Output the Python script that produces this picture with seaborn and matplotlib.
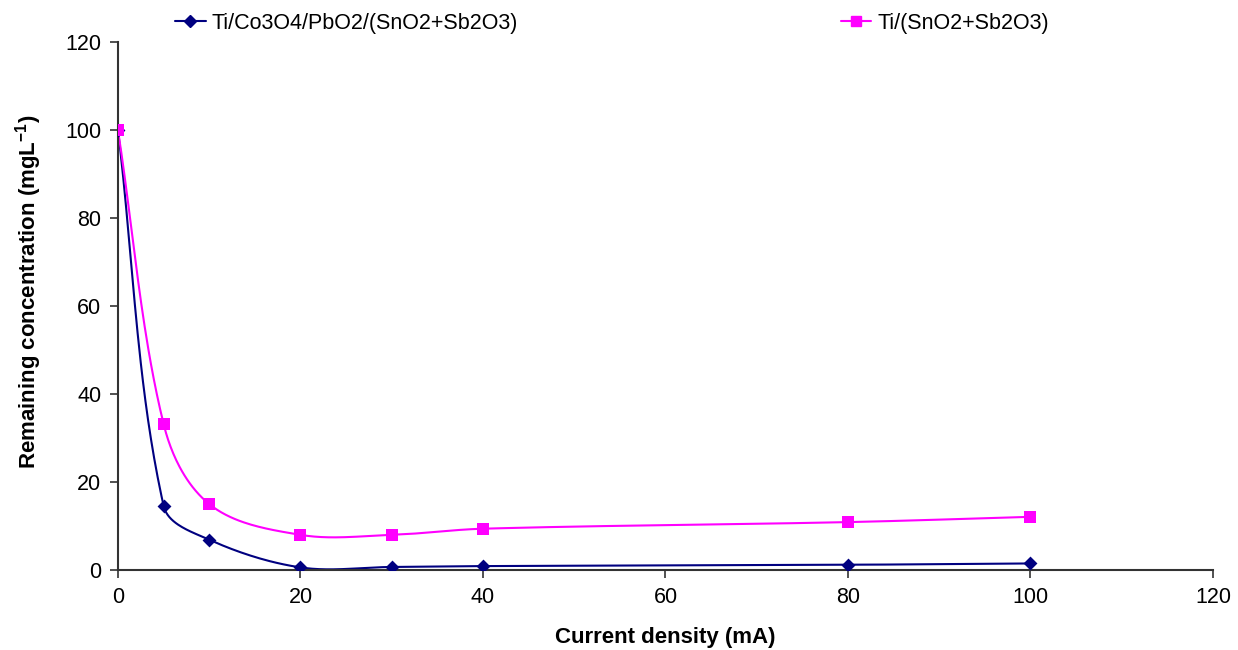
import numpy as np
import pandas as pd
import matplotlib
matplotlib.use("Agg")
import matplotlib.pyplot as plt
import seaborn as sns
from matplotlib.lines import Line2D

# Data
current = [0, 5, 10, 20, 30, 40, 80, 100]
conc_co3o4 = [100, 14.6, 6.9, 0.6, 0.7, 0.9, 1.2, 1.5]
conc_sno2 = [100, 33.2, 15.0, 8.0, 8.0, 9.4, 10.9, 12.1]
series_names = ["Ti/Co3O4/PbO2/(SnO2+Sb2O3)", "Ti/(SnO2+Sb2O3)"]
colors = ["#000080", "#FF00FF"]
markers = ["D", "s"]

sns.set_style("white")
plt.rcParams["font.family"] = ["Liberation Sans", "DejaVu Sans"]
plt.rcParams["mathtext.fontset"] = "custom"
plt.rcParams["mathtext.rm"] = "Liberation Sans"
plt.rcParams["mathtext.bf"] = "Liberation Sans:bold"


def excel_smooth(x, y, sx=9.125, sy=4.4, n=40):
    # smoothed line like Excel: bezier segments, tangent from neighbours,
    # control distance scaled by each segment's own length (screen units)
    pts = np.column_stack([np.asarray(x, float) * sx, np.asarray(y, float) * sy])
    k = len(pts)
    tang = []
    for i in range(k):
        a = pts[max(i - 1, 0)]
        b = pts[min(i + 1, k - 1)]
        d = b - a
        tang.append(d / np.linalg.norm(d))
    out = [pts[0]]
    t = np.linspace(0, 1, n)[1:, None]
    for i in range(k - 1):
        p1, p2 = pts[i], pts[i + 1]
        L = np.linalg.norm(p2 - p1)
        c1 = p1 + tang[i] * L / 3
        c2 = p2 - tang[i + 1] * L / 3
        seg = ((1 - t) ** 3) * p1 + 3 * ((1 - t) ** 2) * t * c1 + 3 * (1 - t) * t ** 2 * c2 + t ** 3 * p2
        out.extend(seg)
    out = np.array(out)
    return out[:, 0] / sx, out[:, 1] / sy


fig = plt.figure(figsize=(12.38, 6.5), dpi=100)
ax = fig.add_axes([0.0953, 0.123, 0.8845, 0.812])

for name, vals, c, m in zip(series_names, [conc_co3o4, conc_sno2], colors, markers):
    sx_, sy_ = excel_smooth(current, vals)
    sns.lineplot(x=sx_, y=sy_, ax=ax, color=c, linewidth=1.5, sort=False, estimator=None)
    sns.scatterplot(x=current, y=vals, ax=ax, color=c, marker=m,
                    s=64 if m == "s" else 50, edgecolor=c, linewidth=0, zorder=3)

ax.set_xlim(0, 120)
ax.set_ylim(0, 120)
ax.set_xticks(range(0, 121, 20))
ax.set_yticks(range(0, 121, 20))
ax.tick_params(axis="both", direction="out", length=6, width=1.2, color="#333333",
               labelsize=15.5, labelcolor="black", pad=6, bottom=True, left=True)
for s in ["top", "right"]:
    ax.spines[s].set_visible(False)
for s in ["left", "bottom"]:
    ax.spines[s].set_color("#333333")
    ax.spines[s].set_linewidth(1.5)

ax.set_xlabel("Current density (mA)", fontsize=16, fontweight="bold", labelpad=14, color="black")
ax.set_ylabel(r"Remaining concentration (mgL$^{\mathbf{-1}}$)", fontsize=16,
              fontweight="bold", color="black")
ax.yaxis.set_label_coords(-0.068, 0.527)

handles = [Line2D([0], [0], color=c, marker=m, markersize=6.5 if m == "D" else 7.5, linewidth=1.5)
           for c, m in zip(colors, markers)]
leg = fig.legend(handles, series_names, ncol=2, frameon=False, fontsize=15.5,
                 loc="center left", bbox_to_anchor=(0.126, 0.964),
                 handlelength=1.4, handletextpad=0.3, columnspacing=15.0)
for txt in leg.get_texts():
    txt.set_color("black")

fig.savefig("out.png", dpi=100)
